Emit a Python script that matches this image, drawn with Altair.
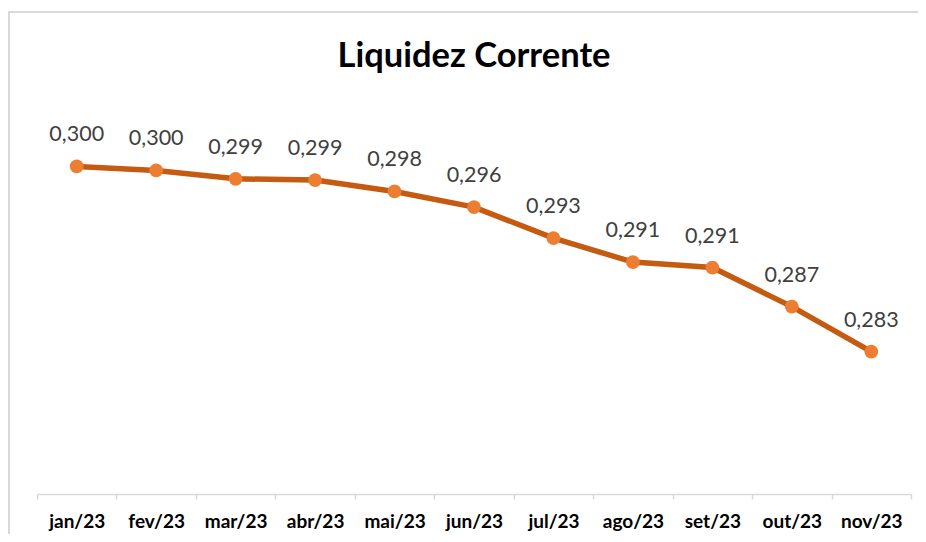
import altair as alt
import pandas as pd

months = ["jan/23", "fev/23", "mar/23", "abr/23", "mai/23", "jun/23",
          "jul/23", "ago/23", "set/23", "out/23", "nov/23"]
values = [0.29996, 0.29959, 0.29883, 0.29871, 0.29767, 0.29624,
          0.29340, 0.29121, 0.29071, 0.28714, 0.28303]
title_text = "Liquidez Corrente"

df = pd.DataFrame({"mes": months, "valor": values})

base = alt.Chart(df).encode(
    x=alt.X("mes:N", sort=months,
            scale=alt.Scale(paddingInner=0, paddingOuter=0),
            axis=alt.Axis(title=None, labelAngle=0, tickBand="extent",
                          domainColor="#D9D9D9", domainWidth=1.5,
                          tickColor="#D9D9D9", tickWidth=1.5, tickSize=5,
                          labelFont="Lato", labelFontSize=19, labelFontWeight="bold",
                          labelColor="#000000", labelBaseline="alphabetic",
                          labelPadding=28)),
    y=alt.Y("valor:Q", scale=alt.Scale(domain=[0.27, 0.30], zero=False, nice=False),
            axis=None),
)

line = base.mark_line(color="#C55A11", strokeWidth=5.5)
points = base.mark_point(filled=True, size=190, color="#ED7D31", opacity=1)
labels = base.transform_calculate(
    rotulo="replace(format(datum.valor, '.3f'), '.', ',')"
).mark_text(dy=-25, baseline="alphabetic", font="Lato", fontSize=21.5,
            color="#404040").encode(text="rotulo:N")

one = alt.Data(values=[{}])
border = alt.Chart(one).mark_rect(
    fillOpacity=0, stroke="#D9D9D9", strokeWidth=2
).encode(x=alt.value(-28), y=alt.value(-154), x2=alt.value(890), y2=alt.value(380))

title = alt.Chart(one).mark_text(
    font="Lato", fontSize=34.5, fontWeight="bold", color="#000000",
    baseline="alphabetic", align="center"
).encode(x=alt.value(437), y=alt.value(-99), text=alt.value(title_text))

chart = alt.layer(border, line, points, labels, title).properties(
    width=874, height=328,
    autosize=alt.AutoSizeParams(type="none"),
    padding={"left": 29, "top": 158, "right": 7, "bottom": 40},
).configure_view(stroke=None)

chart.save("out.html", embed_options={"renderer": "svg", "actions": False})
